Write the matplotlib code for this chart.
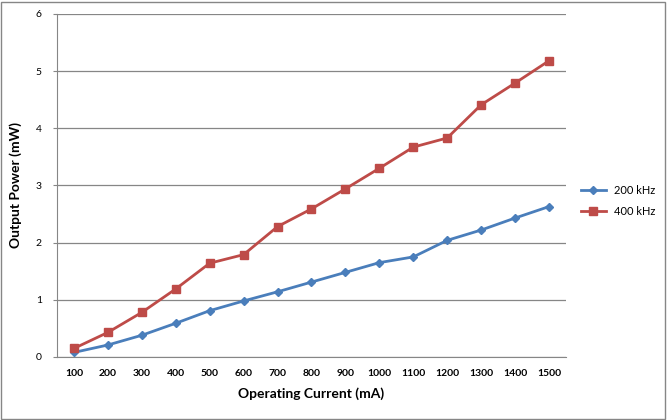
import numpy as np
import matplotlib.pyplot as plt
from matplotlib.patches import Rectangle

plt.rcParams['font.family'] = ['Lato', 'DejaVu Sans']

# data
current = ['100', '200', '300', '400', '500', '600', '700', '800', '900',
           '1000', '1100', '1200', '1300', '1400', '1500']
power_200k = [0.08, 0.21, 0.38, 0.59, 0.81, 0.98, 1.14, 1.31, 1.48,
              1.65, 1.75, 2.04, 2.22, 2.43, 2.63]
power_400k = [0.15, 0.43, 0.78, 1.19, 1.64, 1.79, 2.28, 2.59, 2.94,
              3.30, 3.67, 3.83, 4.41, 4.79, 5.18]

fig = plt.figure(figsize=(6.68, 4.2), dpi=100)
ax = fig.add_axes([0.0853, 0.15, 0.762, 0.817])

x = np.arange(len(current))
ax.plot(x, power_200k, color='#4A7EBB', lw=2.0, marker='D', ms=4.5,
        label='200 kHz')
ax.plot(x, power_400k, color='#BE4B48', lw=2.0, marker='s', ms=5.5,
        label='400 kHz')

ax.set_xlim(-0.5, len(current) - 0.5)
ax.set_ylim(0, 6)
ax.set_yticks(range(7))
ax.set_xticks(x)
ax.set_xticklabels(current)
ax.tick_params(axis='x', length=0, labelsize=7.5, pad=9)
ax.tick_params(axis='y', length=3, color='#868686', labelsize=7.5, pad=8)
for lbl in ax.get_xticklabels():
    lbl.set_fontweight('bold')
ax.grid(axis='y', color='#868686', lw=0.9)
ax.set_axisbelow(True)
for s in ['top', 'right']:
    ax.spines[s].set_visible(False)
ax.spines['left'].set_color('#868686')
ax.spines['bottom'].set_color('#868686')

ax.set_xlabel('Operating Current (mA)', fontsize=10, fontweight='bold', labelpad=6)
ax.set_ylabel('Output Power (mW)', fontsize=10, fontweight='bold', labelpad=10)

ax.legend(loc='center left', bbox_to_anchor=(1.01, 0.455), frameon=False,
          fontsize=8, handlelength=2.2, labelspacing=0.9)

fig.patches.append(Rectangle((0.002, 0.003), 0.994, 0.993, transform=fig.transFigure,
                             fill=False, edgecolor='#868686', lw=1))

plt.savefig('out.png', dpi=100)
